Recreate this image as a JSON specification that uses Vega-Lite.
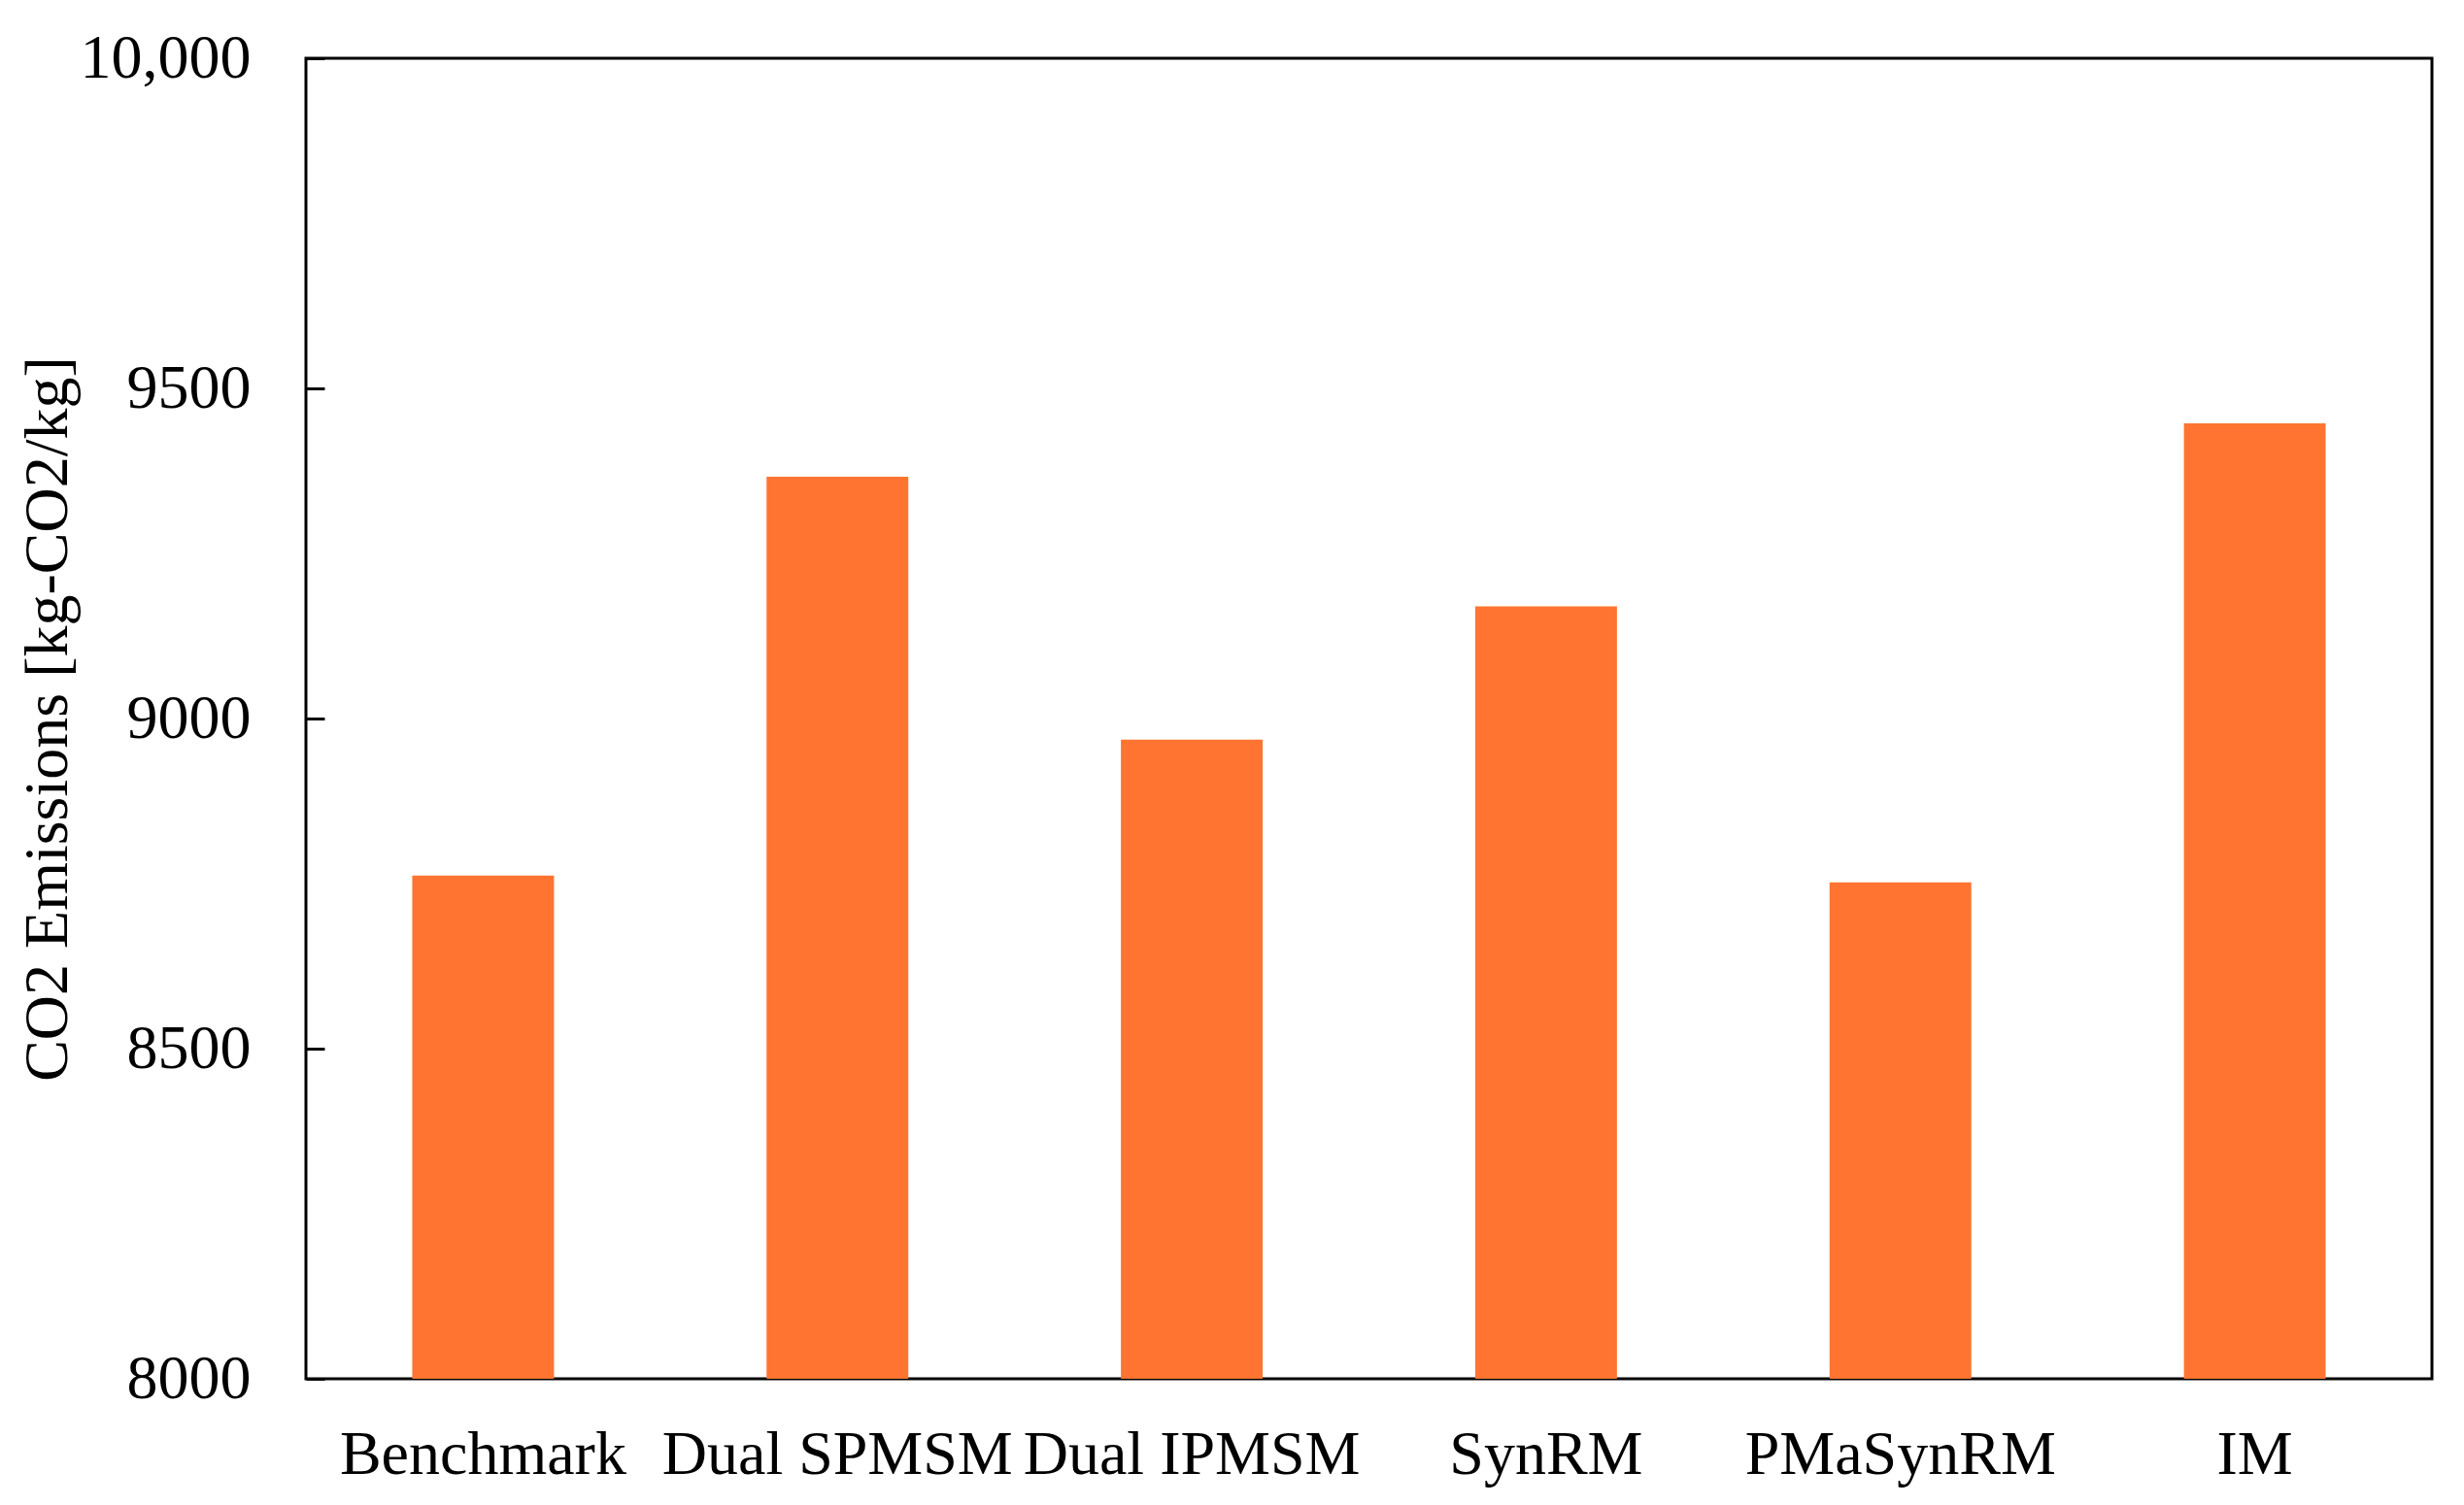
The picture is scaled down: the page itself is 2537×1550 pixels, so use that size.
{
  "$schema": "https://vega.github.io/schema/vega-lite/v6.json",
  "width": 2189,
  "height": 1360,
  "autosize": {"type": "none"},
  "padding": {"left": 315, "top": 60, "right": 33, "bottom": 130},
  "background": "white",
  "config": {
    "font": "Liberation Serif",
    "view": {"stroke": "black", "strokeWidth": 3}
  },
  "data": {
    "values": [
      {"motor": "Benchmark", "co2": 8762},
      {"motor": "Dual SPMSM", "co2": 9366},
      {"motor": "Dual IPMSM", "co2": 8968},
      {"motor": "SynRM", "co2": 9170},
      {"motor": "PMaSynRM", "co2": 8752},
      {"motor": "IM", "co2": 9447}
    ]
  },
  "mark": {"type": "bar", "color": "#FE7430"},
  "encoding": {
    "x": {
      "field": "motor",
      "type": "nominal",
      "sort": null,
      "scale": {"paddingInner": 0.6, "paddingOuter": 0.3},
      "axis": {
        "title": null,
        "labelAngle": 0,
        "labelFont": "Liberation Serif",
        "labelFontSize": 64,
        "labelColor": "black",
        "labelBaseline": "alphabetic",
        "labelPadding": 97,
        "labelLimit": 0,
        "ticks": false,
        "domain": false
      }
    },
    "y": {
      "field": "co2",
      "type": "quantitative",
      "scale": {"domain": [8000, 10000], "nice": false, "zero": false},
      "axis": {
        "values": [8000, 8500, 9000, 9500, 10000],
        "labelExpr": "datum.value >= 10000 ? format(datum.value, ',') : format(datum.value, 'd')",
        "grid": false,
        "domain": false,
        "offset": -19,
        "tickSize": 19,
        "tickWidth": 3,
        "tickColor": "black",
        "labelPadding": 57,
        "labelFont": "Liberation Serif",
        "labelFontSize": 64,
        "labelColor": "black",
        "title": "CO2 Emissions [kg-CO2/kg]",
        "titleFont": "Liberation Serif",
        "titleFontSize": 64,
        "titleFontWeight": "normal",
        "titleColor": "black",
        "titleAngle": -90,
        "titleX": -266,
        "titleY": 680,
        "titleAlign": "center",
        "titleBaseline": "alphabetic"
      }
    },
    "y2": {"datum": 8000}
  }
}
